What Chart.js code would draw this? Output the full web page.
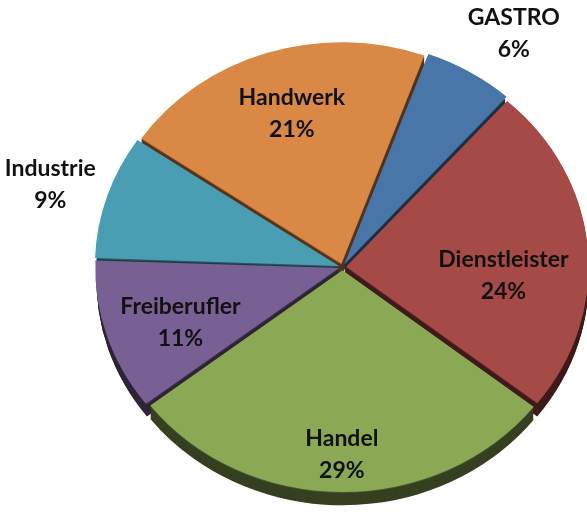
<!DOCTYPE html>
<html>
<head>
<meta charset="utf-8">
<script src="https://cdn.jsdelivr.net/npm/chart.js@4"></script>
<style>
  html, body { margin: 0; padding: 0; background: #fff; }
  #wrap { width: 587px; height: 515px; position: relative; }
</style>
</head>
<body>
<div id="wrap"><canvas id="pieChart" width="587" height="515"></canvas></div>
<script>
// Daten (Reihenfolge im Uhrzeigersinn, ab GASTRO)
const kategorien = ['GASTRO', 'Dienstleister', 'Handel', 'Freiberufler', 'Industrie', 'Handwerk'];
const anteile = [6, 24, 29, 11, 9, 21];
const farben = ['#4876a8', '#a64a47', '#8ba954', '#786094', '#4a9eb4', '#da8845'];

// Lage der Beschriftungen (Radiusfaktor, Winkelkorrektur in Grad)
const labelRadius = [1.2, 0.7, 0.8, 0.74, 1.2, 0.72];
const labelWinkel = [0, 7, 0, 0, 0, 0];

const tiefe = 14;          // Höhe der 3D-Seite
const neigung = [1.045, 0.955]; // leichte Ellipse (x, y)

function abdunkeln(hex, f) {
    const n = parseInt(hex.slice(1), 16);
    const r = Math.round(((n >> 16) & 255) * f);
    const g = Math.round(((n >> 8) & 255) * f);
    const b = Math.round((n & 255) * f);
    return `rgb(${r},${g},${b})`;
}

function arcPfad(ctx, arc, dy) {
    const p = arc.getProps(['x', 'y', 'startAngle', 'endAngle', 'outerRadius']);
    const off = (arc.options.offset || 0) / 4;
    const mitte = (p.startAngle + p.endAngle) / 2;
    const cx = p.x + Math.cos(mitte) * off;
    const cy = p.y + Math.sin(mitte) * off + dy;
    ctx.beginPath();
    ctx.moveTo(cx, cy);
    ctx.arc(cx, cy, p.outerRadius, p.startAngle, p.endAngle);
    ctx.closePath();
}

function ellipse(chart) {
    const ctx = chart.ctx;
    const arc = chart.getDatasetMeta(0).data[0];
    ctx.translate(arc.x, arc.y);
    ctx.scale(neigung[0], neigung[1]);
    ctx.translate(-arc.x, -arc.y);
}

// 3D-Seite unter den Segmenten
const seitenPlugin = {
    id: 'seite',
    beforeDatasetsDraw(chart) {
        const ctx = chart.ctx;
        const arcs = chart.getDatasetMeta(0).data;
        ctx.save();
        ellipse(chart);
        for (let d = tiefe; d >= 1; d--) {
            arcs.forEach((arc, i) => {
                arcPfad(ctx, arc, d);
                ctx.fillStyle = abdunkeln(farben[i], d === 1 ? 0.55 : 0.38);
                ctx.fill();
            });
        }
        ctx.restore();
    },
    beforeDatasetDraw(chart) {
        chart.ctx.save();
        ellipse(chart);
    },
    afterDatasetDraw(chart) {
        chart.ctx.restore();
    }
};

// Beschriftungen: kleine Anteile außen, sonst innen
const labelPlugin = {
    id: 'beschriftung',
    afterDatasetsDraw(chart) {
        const ctx = chart.ctx;
        const arcs = chart.getDatasetMeta(0).data;
        ctx.save();
        ctx.font = 'bold 23px Lato, "Open Sans", sans-serif';
        ctx.fillStyle = '#111';
        ctx.textAlign = 'center';
        ctx.textBaseline = 'middle';
        arcs.forEach((arc, i) => {
            const p = arc.getProps(['x', 'y', 'startAngle', 'endAngle', 'outerRadius']);
            const mitte = (p.startAngle + p.endAngle) / 2 + labelWinkel[i] * Math.PI / 180;
            const r = 230 * labelRadius[i];
            let lx = p.x + Math.cos(mitte) * r;
            const ly = p.y + Math.sin(mitte) * r + 4;
            if (labelRadius[i] > 1) lx += Math.sign(Math.cos(mitte)) * 30;
            ctx.fillText(kategorien[i], lx, ly - 16);
            ctx.fillText(anteile[i] + '%', lx, ly + 16);
        });
        ctx.restore();
    }
};

new Chart(document.getElementById('pieChart').getContext('2d'), {
    type: 'pie',
    data: {
        labels: kategorien,
        datasets: [{
            data: anteile,
            backgroundColor: farben,
            borderWidth: 0,
            offset: 14
        }]
    },
    options: {
        responsive: false,
        animation: false,
        rotation: 20,
        radius: 232,
        layout: { padding: { left: 99, right: 1, top: 20, bottom: 1 } },
        plugins: { legend: { display: false }, tooltip: { enabled: false } }
    },
    plugins: [seitenPlugin, labelPlugin]
});
</script>
</body>
</html>
